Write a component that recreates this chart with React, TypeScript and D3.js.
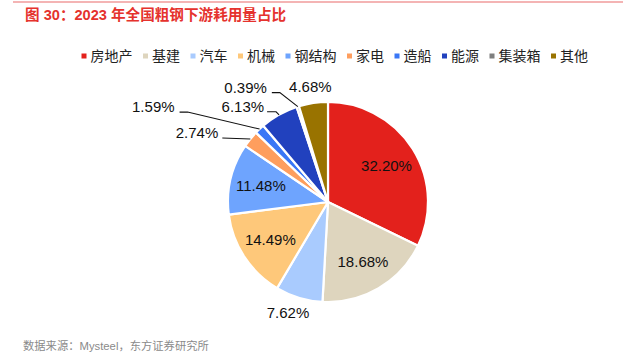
import React from "react";
import * as d3 from "d3";

const categories = ["房地产", "基建", "汽车", "机械", "钢结构", "家电", "造船", "能源", "集装箱", "其他"];
const shares = [32.2, 18.68, 7.62, 14.49, 11.48, 2.74, 1.59, 6.13, 0.39, 4.68];
const colors = ["#E3211C", "#DED5BE", "#A9CBFE", "#FEC87A", "#6EA4FE", "#FE9E5E", "#3A77F6", "#2141BE", "#7F7F7F", "#997300"];

const title = "图 30：2023 年全国粗钢下游耗用量占比";
const source = "数据来源：Mysteel，东方证券研究所";

// label placement: "in" = inside slice, otherwise offsets from the slice's outer edge
type LabelPos = { mode: "in" } | { mode: "out"; tx: number; ty: number; anchor: string; line?: [number, number][] };
const labelPos: LabelPos[] = [
  { mode: "in" },
  { mode: "in" },
  { mode: "out", tx: -11, ty: 15, anchor: "middle" },
  { mode: "in" },
  { mode: "in" },
  { mode: "out", tx: -32, ty: -6, anchor: "end", line: [[-28, -1], [0, 0]] },
  { mode: "out", tx: -85, ty: -22, anchor: "end", line: [[-80, -17], [-72, -17], [0, 0]] },
  { mode: "out", tx: -15, ty: -8, anchor: "end", line: [[-12, -3], [-3, -3], [0, 0]] },
  { mode: "out", tx: -31, ty: -19, anchor: "end", line: [[-26, -14], [-18, -14], [0, 0]] },
  { mode: "out", tx: -3, ty: -16, anchor: "middle" },
];

const W = 623;
const H = 355;
const cx = 328;
const cy = 202;
const R = 100;
const font = "'Liberation Sans', Arial, 'Noto Sans CJK SC', sans-serif";

export default function App() {
  const data = categories.map((c, i) => ({ name: c, value: shares[i], color: colors[i], pos: labelPos[i] }));
  const pie = d3.pie<(typeof data)[number]>().sort(null).value((d) => d.value);
  const arcs = pie(data);
  const arc = d3.arc<d3.PieArcDatum<(typeof data)[number]>>().innerRadius(0).outerRadius(R);
  const labelArc = d3.arc<d3.PieArcDatum<(typeof data)[number]>>().innerRadius(R * 0.69).outerRadius(R * 0.69);
  const edgeArc = d3.arc<d3.PieArcDatum<(typeof data)[number]>>().innerRadius(R).outerRadius(R);

  // legend layout
  const charW = 14;
  let lx = 81.5;
  const legend = categories.map((c, i) => {
    const item = { name: c, color: colors[i], x: lx };
    lx += 9 + c.length * charW + 10.5;
    return item;
  });

  return (
    <svg width={W} height={H} style={{ position: "absolute", left: 0, top: 0 }}>
      <rect width={W} height={H} fill="#fff" />
      <line x1={13} x2={W} y1={2} y2={2} stroke="#F19B9B" strokeWidth={1.5} />
      <text x={25} y={20} fill="#E5322D" fontSize={14.6} fontWeight="bold" fontFamily={font}>
        {title}
      </text>

      <g fontFamily={font} fontSize={14} fill="#222">
        {legend.map((d) => (
          <g key={d.name}>
            <rect x={d.x} y={53.5} width={5} height={5} fill={d.color} />
            <text x={d.x + 9} y={56} dy="0.35em">
              {d.name}
            </text>
          </g>
        ))}
      </g>

      <g transform={`translate(${cx},${cy})`}>
        {arcs.map((a) => (
          <path key={a.data.name} d={arc(a) ?? ""} fill={a.data.color} stroke="#fff" strokeWidth={2.2} strokeLinejoin="round" />
        ))}
        {arcs.map((a) => {
          const p = a.data.pos;
          const txt = a.data.value.toFixed(2) + "%";
          if (p.mode === "in") {
            const [x, y] = labelArc.centroid(a);
            return (
              <text key={a.data.name} x={x} y={y} dy="0.35em" textAnchor="middle" fontSize={15} fontFamily={font} fill="#111">
                {txt}
              </text>
            );
          }
          const [ex, ey] = edgeArc.centroid(a);
          const line = p.line ? d3.line()(p.line.map(([dx, dy]) => [ex + dx, ey + dy] as [number, number])) : null;
          return (
            <g key={a.data.name}>
              {line && <path d={line} fill="none" stroke="#111" strokeWidth={1.1} />}
              <text x={ex + p.tx} y={ey + p.ty} dy="0.35em" textAnchor={p.anchor} fontSize={15} fontFamily={font} fill="#111">
                {txt}
              </text>
            </g>
          );
        })}
      </g>

      <text x={23} y={350} fontSize={11.3} fill="#8A8A8A" fontFamily={font}>
        {source}
      </text>
    </svg>
  );
}
